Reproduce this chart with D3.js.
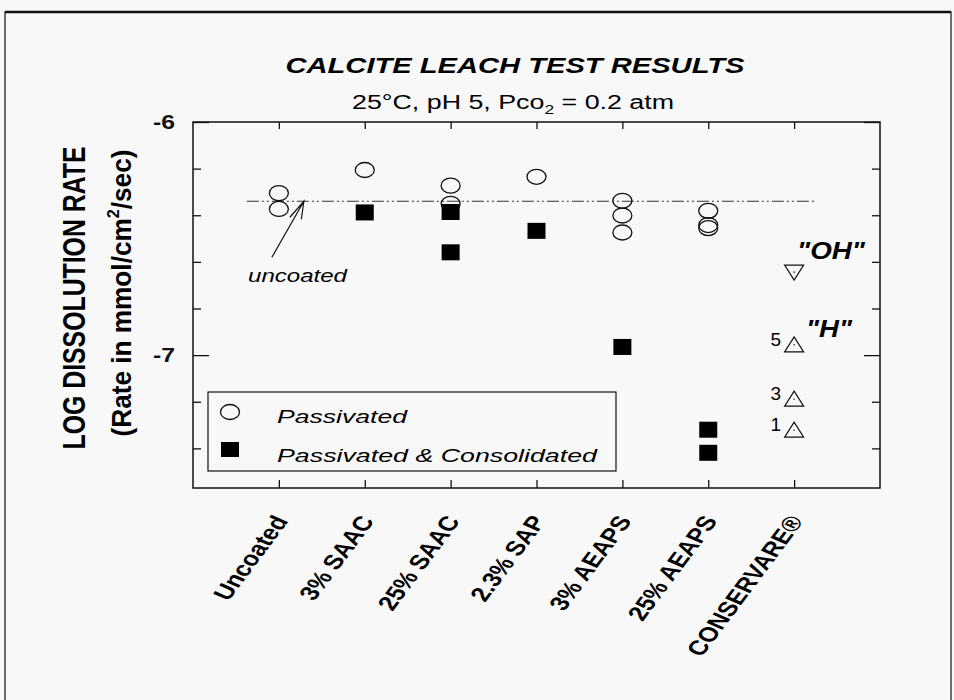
<!DOCTYPE html>
<html>
<head>
<meta charset="utf-8">
<script src="https://cdn.jsdelivr.net/npm/d3@7"></script>
<style>
    body { margin: 0; background: #f8f8f8; }
    svg { display: block; font-family: "Liberation Sans", Arial, sans-serif; }
</style>
</head>
<body>
<div id="chart"></div>
<script>

// categories along the bottom
var categories = ["Uncoated", "3% SAAC", "25% SAAC", "2.3% SAP", "3% AEAPS", "25% AEAPS", "CONSERVARE®"];

// open circles - passivated
var passCat = ["Uncoated", "Uncoated", "3% SAAC", "25% SAAC", "25% SAAC", "2.3% SAP",
    "3% AEAPS", "3% AEAPS", "3% AEAPS", "25% AEAPS", "25% AEAPS", "25% AEAPS"];
var passVal = [-6.305, -6.373, -6.206, -6.273, -6.351, -6.235,
    -6.338, -6.401, -6.474, -6.381, -6.442, -6.455];

// filled squares - passivated & consolidated
var consCat = ["3% SAAC", "25% SAAC", "25% SAAC", "2.3% SAP", "3% AEAPS", "25% AEAPS", "25% AEAPS"];
var consVal = [-6.388, -6.386, -6.559, -6.467, -6.965, -7.32, -7.419];

// conservare points
var ohVal = [-6.644];
var hVal = [-6.956, -7.189, -7.322];
var hLabels = ["5", "3", "1"];

// uncoated reference level
var uncoatedLevel = -6.34;

// axis ticks
var yMinor = [-7.4, -7.2, -6.8, -6.6, -6.4, -6.2];
var yMajor = [-7, -6];
var yDomain = [-7.57, -6];

var width = 954;
var height = 700;
// plot box (don't call these top/left - window.top clashes)
var pLeft = 193, pRight = 880, pTop = 122, pBottom = 488;
var stretch = 1.3; // the scan is wider than tall

var svg = d3.select("#chart")
    .append("svg")
    .attr("width", width)
    .attr("height", height);

svg.append("rect")
    .attr("width", width)
    .attr("height", height)
    .attr("fill", "#f8f8f8");

// outer frame
svg.append("rect")
    .attr("x", 5)
    .attr("y", 12)
    .attr("width", 946)
    .attr("height", 700)
    .attr("fill", "none")
    .attr("stroke", "#222")
    .attr("stroke-width", 1.3);
svg.append("line")
    .attr("x1", 5).attr("x2", 951)
    .attr("y1", 12).attr("y2", 12)
    .attr("stroke", "#111")
    .attr("stroke-width", 2.5);

var x = d3.scalePoint()
    .domain(categories)
    .range([pLeft, pRight])
    .padding(1);

var y = d3.scaleLinear()
    .domain(yDomain)
    .range([pBottom, pTop]);

// title
svg.append("text")
    .attr("x", 515)
    .attr("y", 73)
    .attr("text-anchor", "middle")
    .attr("font-size", 22)
    .attr("font-weight", "bold")
    .attr("font-style", "italic")
    .attr("textLength", 459)
    .attr("lengthAdjust", "spacingAndGlyphs")
    .text("CALCITE LEACH TEST RESULTS");

var sub = svg.append("text")
    .attr("x", 352)
    .attr("y", 109)
    .attr("font-size", 20)
    .attr("textLength", 322)
    .attr("lengthAdjust", "spacingAndGlyphs");
sub.append("tspan").text("25°C, pH 5, Pco");
sub.append("tspan").attr("font-size", 13).attr("dy", 5).text("2");
sub.append("tspan").attr("dy", -5).text(" = 0.2 atm");

// y axis titles
svg.append("text")
    .attr("transform", "translate(85,298) scale(" + stretch + ",1) rotate(-90)")
    .attr("text-anchor", "middle")
    .attr("font-size", 24)
    .attr("font-weight", "bold")
    .attr("textLength", 303)
    .attr("lengthAdjust", "spacingAndGlyphs")
    .text("LOG DISSOLUTION RATE");

var ylab = svg.append("text")
    .attr("transform", "translate(131,293) scale(" + stretch + ",1) rotate(-90)")
    .attr("text-anchor", "middle")
    .attr("font-size", 21)
    .attr("font-weight", "bold")
    .attr("textLength", 287)
    .attr("lengthAdjust", "spacingAndGlyphs");
ylab.append("tspan").text("(Rate in mmol/cm");
ylab.append("tspan").attr("font-size", 13).attr("dy", -9).text("2");
ylab.append("tspan").attr("dy", 9).text("/sec)");

// plot frame
svg.append("rect")
    .attr("x", pLeft)
    .attr("y", pTop)
    .attr("width", pRight - pLeft)
    .attr("height", pBottom - pTop)
    .attr("fill", "none")
    .attr("stroke", "#111")
    .attr("stroke-width", 1.5);

// inward ticks on all four sides
var tickStyle = function (g) {
    g.select(".domain").remove();
    g.selectAll(".tick line").attr("stroke", "#111").attr("stroke-width", 1.3);
    g.selectAll(".tick text").remove();
};

svg.append("g").attr("transform", "translate(" + pLeft + ",0)")
    .call(d3.axisRight(y).tickValues(yMinor).tickSize(8)).call(tickStyle);
svg.append("g").attr("transform", "translate(" + pLeft + ",0)")
    .call(d3.axisRight(y).tickValues(yMajor).tickSize(16)).call(tickStyle);
svg.append("g").attr("transform", "translate(" + pRight + ",0)")
    .call(d3.axisLeft(y).tickValues(yMinor).tickSize(8)).call(tickStyle);
svg.append("g").attr("transform", "translate(" + pRight + ",0)")
    .call(d3.axisLeft(y).tickValues(yMajor).tickSize(16)).call(tickStyle);
svg.append("g").attr("transform", "translate(0," + pTop + ")")
    .call(d3.axisBottom(x).tickSize(7)).call(tickStyle);
svg.append("g").attr("transform", "translate(0," + pBottom + ")")
    .call(d3.axisTop(x).tickSize(8)).call(tickStyle);

// -6 / -7 labels
var yLabels = svg.append("g").attr("transform", "translate(" + pLeft + ",0)")
    .call(d3.axisLeft(y).tickValues(yMajor).tickSize(0).tickPadding(18)
        .tickFormat(function (d) { return String(d); }));
yLabels.select(".domain").remove();
yLabels.selectAll(".tick text")
    .attr("font-family", "Liberation Sans, Arial, sans-serif")
    .attr("font-size", 21)
    .attr("font-weight", "bold")
    .attr("fill", "#111")
    .attr("textLength", 22)
    .attr("lengthAdjust", "spacingAndGlyphs");

// category labels, rotated
svg.append("g")
    .selectAll("text")
    .data(categories)
    .enter()
    .append("text")
    .attr("transform", function (d) {
        return "translate(" + (x(d) + 10) + ",521) scale(" + stretch + ",1) rotate(-60)";
    })
    .attr("text-anchor", "end")
    .attr("font-size", 20.5)
    .attr("font-weight", "bold")
    .text(function (d) { return d; });

// uncoated reference line (dash dot dot)
svg.append("line")
    .attr("x1", x("Uncoated") - 32)
    .attr("x2", x("CONSERVARE®") + 21)
    .attr("y1", y(uncoatedLevel))
    .attr("y2", y(uncoatedLevel))
    .attr("stroke", "#333")
    .attr("stroke-width", 1.2)
    .attr("stroke-dasharray", "12,3,2,3,2,3");

// arrow + note
var tipX = x("Uncoated") + 25, tipY = y(uncoatedLevel);
svg.append("path")
    .attr("d", "M" + (tipX - 32) + "," + (tipY + 56) + " L" + tipX + "," + tipY +
        " M" + (tipX - 14) + "," + (tipY + 16) + " L" + tipX + "," + tipY +
        " L" + (tipX - 2.5) + "," + (tipY + 18))
    .attr("fill", "none")
    .attr("stroke", "#111")
    .attr("stroke-width", 1.2);

svg.append("text")
    .attr("x", 248)
    .attr("y", 282)
    .attr("font-size", 18)
    .attr("font-style", "italic")
    .attr("textLength", 99)
    .attr("lengthAdjust", "spacingAndGlyphs")
    .text("uncoated");

// passivated circles
var passData = passCat.map(function (c, i) { return { cat: c, v: passVal[i] }; });
svg.append("g")
    .selectAll("ellipse")
    .data(passData)
    .enter()
    .append("ellipse")
    .attr("cx", function (d) { return x(d.cat); })
    .attr("cy", function (d) { return y(d.v); })
    .attr("rx", 9.5)
    .attr("ry", 7.5)
    .attr("fill", "none")
    .attr("stroke", "#111")
    .attr("stroke-width", 1.3);

// consolidated squares
var consData = consCat.map(function (c, i) { return { cat: c, v: consVal[i] }; });
svg.append("g")
    .selectAll("rect")
    .data(consData)
    .enter()
    .append("rect")
    .attr("x", function (d) { return x(d.cat) - 9; })
    .attr("y", function (d) { return y(d.v) - 8; })
    .attr("width", 18)
    .attr("height", 16)
    .attr("fill", "#000");

// triangles for conservare
var tri = function (up) {
    var h = up ? -1 : 1;
    return "M-9.5," + (-h * 7) + " L9.5," + (-h * 7) + " L0," + (h * 8) + "Z";
};
var cx = x("CONSERVARE®");

var triG = svg.append("g");
triG.selectAll(".oh")
    .data(ohVal)
    .enter()
    .append("path")
    .attr("class", "oh")
    .attr("transform", function (d) { return "translate(" + cx + "," + y(d) + ")"; })
    .attr("d", tri(false));
triG.selectAll(".h")
    .data(hVal)
    .enter()
    .append("path")
    .attr("class", "h")
    .attr("transform", function (d) { return "translate(" + cx + "," + y(d) + ")"; })
    .attr("d", tri(true));
triG.selectAll("path")
    .attr("fill", "none")
    .attr("stroke", "#111")
    .attr("stroke-width", 1.2);
triG.selectAll("circle")
    .data(ohVal.concat(hVal))
    .enter()
    .append("circle")
    .attr("cx", cx)
    .attr("cy", function (d) { return y(d); })
    .attr("r", 0.8)
    .attr("fill", "#333");

// 5 / 3 / 1 next to H points
svg.append("g")
    .selectAll("text")
    .data(hVal)
    .enter()
    .append("text")
    .attr("x", cx - 13)
    .attr("y", function (d) { return y(d) + 1; })
    .attr("text-anchor", "end")
    .attr("font-size", 19)
    .text(function (d, i) { return hLabels[i]; });

svg.append("text")
    .attr("x", 797)
    .attr("y", 259)
    .attr("font-size", 23)
    .attr("font-weight", "bold")
    .attr("font-style", "italic")
    .attr("textLength", 68)
    .attr("lengthAdjust", "spacingAndGlyphs")
    .text('"OH"');

svg.append("text")
    .attr("x", 806)
    .attr("y", 337)
    .attr("font-size", 23)
    .attr("font-weight", "bold")
    .attr("font-style", "italic")
    .attr("textLength", 46)
    .attr("lengthAdjust", "spacingAndGlyphs")
    .text('"H"');

// legend
var legend = svg.append("g").attr("class", "legend");
legend.append("rect")
    .attr("x", 208)
    .attr("y", 392)
    .attr("width", 408)
    .attr("height", 79)
    .attr("fill", "none")
    .attr("stroke", "#111")
    .attr("stroke-width", 1.2);
legend.append("ellipse")
    .attr("cx", 230).attr("cy", 412)
    .attr("rx", 9.5).attr("ry", 7.5)
    .attr("fill", "none")
    .attr("stroke", "#111")
    .attr("stroke-width", 1.3);
legend.append("rect")
    .attr("x", 221).attr("y", 442)
    .attr("width", 18).attr("height", 15)
    .attr("fill", "#000");
legend.append("text")
    .attr("x", 277).attr("y", 423)
    .attr("font-size", 19)
    .attr("font-style", "italic")
    .attr("textLength", 130)
    .attr("lengthAdjust", "spacingAndGlyphs")
    .text("Passivated");
legend.append("text")
    .attr("x", 277).attr("y", 462)
    .attr("font-size", 19)
    .attr("font-style", "italic")
    .attr("textLength", 320)
    .attr("lengthAdjust", "spacingAndGlyphs")
    .text("Passivated & Consolidated");

</script>
</body>
</html>
